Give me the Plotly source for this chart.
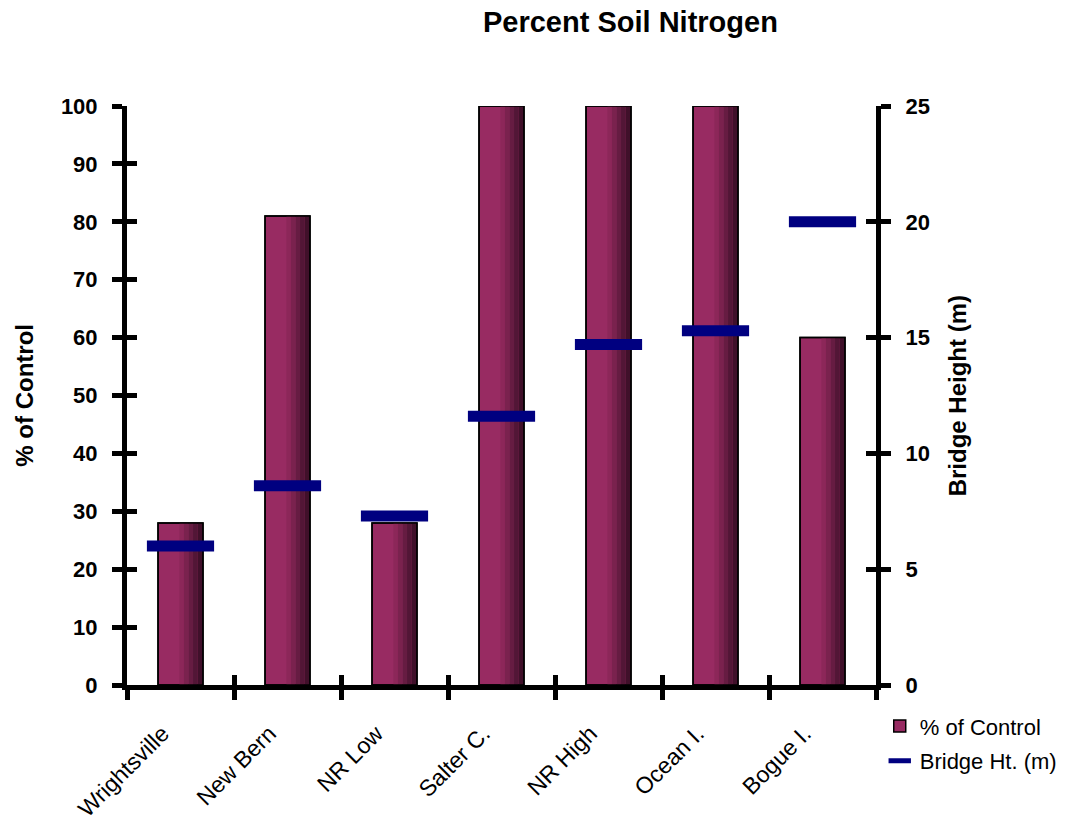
import plotly.graph_objects as go

# Site data
sites = ["Wrightsville", "New Bern", "NR Low", "Salter C.", "NR High", "Ocean I.", "Bogue I."]
pct_control = [28, 81, 28, 100, 100, 100, 60]
bridge_ht = [6.0, 8.6, 7.3, 11.6, 14.7, 15.3, 20.0]

y_ticks = list(range(0, 101, 10))
y2_ticks = list(range(0, 26, 5))

FONT = "Liberation Sans, Arial, sans-serif"
BAR_W = 0.42
HALF = BAR_W / 2
X_RANGE = [-0.5, len(sites) - 0.5]
LABEL_PAD = "\u00a0" * 4

fig = go.Figure()

# Base bar (bright face of the cylinder)
fig.add_trace(go.Bar(
    x=sites, y=pct_control, name="% of Control", legendgroup="a",
    width=BAR_W, offset=-HALF,
    marker=dict(color="#982B62", line=dict(color="black", width=1.5)),
    xaxis="x", yaxis="y",
))

# Darker slices on the right for a cylindrical shading
shades = ["#8C2759", "#7A224E", "#661C42", "#521636", "#40102A"]
n = len(shades)
start = -0.01
end = HALF - 0.008
step = (end - start) / n
for i, c in enumerate(shades):
    fig.add_trace(go.Bar(
        x=sites, y=pct_control, width=step, offset=start + i * step,
        marker=dict(color=c, line=dict(width=0)),
        showlegend=False, hoverinfo="skip", xaxis="x", yaxis="y",
    ))

# Outline on top
fig.add_trace(go.Bar(
    x=sites, y=pct_control, width=BAR_W, offset=-HALF,
    marker=dict(color="rgba(0,0,0,0)", line=dict(color="black", width=1.5)),
    showlegend=False, hoverinfo="skip", xaxis="x", yaxis="y",
))

# Bridge height markers on the secondary axis
fig.add_trace(go.Scatter(
    x=sites, y=bridge_ht, name="Bridge Ht. (m)", mode="markers", legendgroup="b",
    marker=dict(symbol="line-ew", size=48, color="#000080",
                line=dict(color="#000080", width=11)),
    xaxis="x", yaxis="y2",
))

# Transparent copies so the inner halves of the crossing ticks get drawn
fig.add_trace(go.Scatter(
    x=sites, y=pct_control, mode="markers", marker=dict(opacity=0),
    showlegend=False, hoverinfo="skip", xaxis="x2", yaxis="y3",
))
fig.add_trace(go.Scatter(
    x=sites, y=bridge_ht, mode="markers", marker=dict(opacity=0),
    showlegend=False, hoverinfo="skip", xaxis="x", yaxis="y4",
))

TICK_LEN = 10
TICK_W = 5
bold_tick = dict(family=FONT, size=22, color="black", weight="bold")

axis_common = dict(
    showline=True, linecolor="black", linewidth=5,
    ticks="outside", ticklen=TICK_LEN, tickwidth=TICK_W, tickcolor="black",
    showgrid=False, zeroline=False, tickfont=bold_tick, ticklabelstandoff=10,
)

# inner halves of the crossing tick marks
inner_common = dict(
    showline=False, showgrid=False, zeroline=False, showticklabels=False,
    ticks="inside", ticklen=TICK_LEN, tickwidth=TICK_W, tickcolor="black",
)

fig.update_layout(
    width=1074, height=836,
    margin=dict(l=127, r=194, t=106, b=151),
    paper_bgcolor="white", plot_bgcolor="white",
    barmode="overlay",
    title=dict(text="<b>Percent Soil Nitrogen</b>", x=0.587, xref="container", xanchor="center",
               y=0.974, yref="container", yanchor="middle",
               font=dict(family=FONT, size=29, color="black")),
    xaxis=dict(
        type="category", range=X_RANGE, showline=True, linecolor="black", linewidth=5,
        ticks="outside", tickson="boundaries", ticklen=TICK_LEN, tickwidth=TICK_W,
        tickcolor="black", showgrid=False, tickangle=-45, ticklabelstandoff=3,
        tickmode="array", tickvals=sites, ticktext=[s + LABEL_PAD for s in sites],
        tickfont=dict(family=FONT, size=23, color="black"),
    ),
    xaxis2=dict(type="category", overlaying="x", anchor="y3", side="bottom", range=X_RANGE,
                tickson="boundaries", **inner_common),
    yaxis=dict(range=[0, 100], tickvals=y_ticks, **axis_common),
    yaxis2=dict(range=[0, 25], tickvals=y2_ticks, overlaying="y", side="right", **axis_common),
    yaxis3=dict(range=[0, 100], tickvals=y_ticks, overlaying="y", side="left",
                anchor="x2", **inner_common),
    yaxis4=dict(range=[0, 25], tickvals=y2_ticks, overlaying="y", side="right",
                anchor="x", **inner_common),
    legend=dict(x=1.005, y=-0.035, xanchor="left", yanchor="top",
                font=dict(family=FONT, size=22, color="black"),
                bgcolor="rgba(0,0,0,0)", traceorder="grouped", tracegroupgap=3,
                itemwidth=30),
    annotations=[
        dict(text="<b>% of Control</b>", x=-0.158, y=0.5, xref="paper", yref="paper",
             textangle=-90, showarrow=False, font=dict(family=FONT, size=24, color="black")),
        dict(text="<b>Bridge Height (m)</b>", x=1.13, y=0.5, xref="paper", yref="paper",
             textangle=-90, showarrow=False, font=dict(family=FONT, size=24, color="black")),
    ],
)

fig.write_html("out.html")
